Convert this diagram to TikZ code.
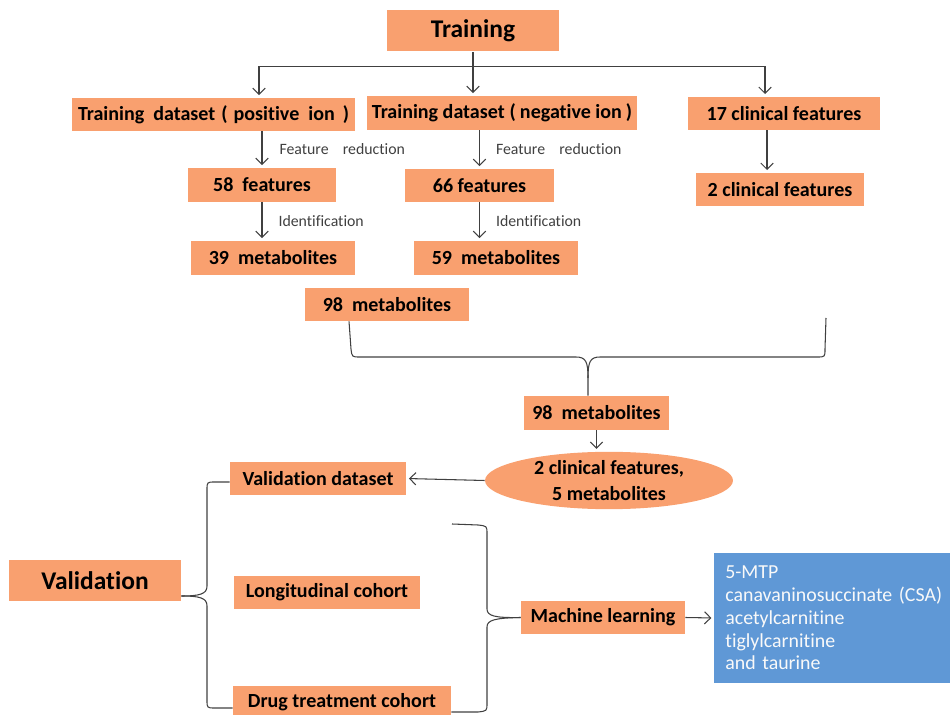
\documentclass[tikz,border=0pt]{standalone}
\usepackage{fontspec}
\setmainfont{Carlito}[Ligatures=NoCommon]
\usepackage{tikz}
\usetikzlibrary{arrows.meta,positioning,calc,shapes.geometric}
\definecolor{boxorange}{HTML}{F9A06F}
\definecolor{boxblue}{HTML}{5F98D6}
\definecolor{linegray}{HTML}{404040}

\begin{document}
\begin{tikzpicture}[x=0.02cm,y=-0.02cm,
box/.style={fill=boxorange,inner sep=0pt,text=black,font=\bfseries\fontsize{11.4}{13}\selectfont},
bigbox/.style={box,font=\bfseries\fontsize{14.5}{16}\selectfont},
lbl/.style={text=linegray,font=\fontsize{9}{10}\selectfont,inner sep=0pt},
line/.style={draw=linegray,line width=0.6pt},
arr/.style={line,-{Straight Barb[length=3.5pt,width=7pt]},shorten >=1.5pt}]
\useasboundingbox (0,0) rectangle (950,715);
\node[bigbox,minimum width=3.44cm,minimum height=0.82cm] (train) at (473,31) {Training};
\node[box,minimum width=5.66cm,minimum height=0.66cm] (pos) at (213.5,114.5) {Training\ \ dataset\hspace{0.3em}(\hspace{0.3em}positive\ \ ion\hspace{0.4em})};
\node[box,minimum width=5.42cm,minimum height=0.68cm] (neg) at (502,113) {Training dataset\hspace{0.25em}(\hspace{0.2em}negative ion\hspace{0.2em})};
\node[box,minimum width=3.84cm,minimum height=0.66cm] (c17) at (784,113.5) {17 clinical features};
\node[box,minimum width=2.98cm,minimum height=0.68cm] (f58) at (262,185) {58\ \ features};
\node[box,minimum width=2.98cm,minimum height=0.66cm] (f66) at (479.5,185.5) {66 features};
\node[box,minimum width=3.36cm,minimum height=0.66cm] (c2) at (780,189.5) {2 clinical features};
\node[box,minimum width=3.28cm,minimum height=0.68cm] (m39) at (273,258) {39\ \ metabolites};
\node[box,minimum width=3.28cm,minimum height=0.68cm] (m59) at (496,258) {59\ \ metabolites};
\node[box,minimum width=3.28cm,minimum height=0.66cm] (m98a) at (387,304.5) {98\ \ metabolites};
\node[box,minimum width=2.9cm,minimum height=0.68cm] (m98b) at (596.5,413) {98\ \ metabolites};
\node[box,ellipse,minimum width=4.96cm,minimum height=1.1cm,align=center,font=\bfseries\fontsize{11.4}{15}\selectfont] (ell) at (609,480.5) {2 clinical features,\\5 metabolites};
\node[box,minimum width=3.52cm,minimum height=0.66cm] (vds) at (318,478.5) {Validation dataset};
\node[bigbox,minimum width=3.44cm,minimum height=0.82cm] (valid) at (95,580.5) {Validation};
\node[box,minimum width=3.72cm,minimum height=0.66cm] (lon) at (327,592.5) {Longitudinal cohort};
\node[box,minimum width=4.36cm,minimum height=0.66cm] (drug) at (342,702.5) {Drug treatment cohort};
\node[box,minimum width=3.28cm,minimum height=0.66cm] (ml) at (603,617.5) {Machine learning};
\node[fill=boxblue,text=white!95!gray,anchor=west,minimum height=2.6cm,inner xsep=0.22cm,inner ysep=0.2cm,text width=4.6cm,align=left,font=\fontsize{11.3}{13}\selectfont] (res) at (714,618) {5-MTP\\canavaninosuccinate (CSA)\\acetylcarnitine\\tiglylcarnitine\\and taurine};
\draw[line] (train.south) -- ++(0,15) coordinate (hub);
\draw[arr] (hub) -| ([xshift=0.91cm]pos.north);
\draw[arr] (hub) -- (hub |- neg.north);
\draw[arr] (hub) -| ([xshift=-0.38cm]c17.north);
\draw[arr] (f58.north |- pos.south) -- (f58.north) node[lbl,midway,right=0.34cm] {Feature\hspace{0.9em}reduction};
\draw[arr] (f58.south) -- (f58.south |- m39.north) node[lbl,midway,right=0.32cm] {Identification};
\draw[arr] (f66.north |- neg.south) -- (f66.north) node[lbl,midway,right=0.32cm] {Feature\hspace{0.9em}reduction};
\draw[arr] (f66.south) -- (f66.south |- m59.north) node[lbl,midway,right=0.32cm] {Identification};
\draw[arr] ([xshift=-0.26cm]c2.north |- c17.south) -- ([xshift=-0.26cm]c2.north);
\coordinate (topR) at (826,318);
\coordinate (tipA) at ([xshift=-0.17cm]m98b.north);
\draw[line] ([xshift=-0.76cm]m98a.south) -- (351,349) .. controls (352,357) .. (360,357) -- (576,357) .. controls (586,357) and (588,362) .. (588,378) -- (tipA);
\draw[line] (topR) -- (825,349) .. controls (825,357) .. (817,357) -- (600,357) .. controls (590,357) and (588,362) .. (588,378);
\draw[arr] (m98b.south) -- (m98b.south |- ell.north);
\draw[arr] (ell.west) -- (vds.east);
\coordinate (tipV) at ([yshift=-0.31cm]valid.east);
\draw[line] ([yshift=-0.07cm]vds.west) -- (215,482) .. controls (207,482) .. (207,490) -- (207,586) .. controls (207,594) and (200,596) .. (tipV);
\draw[line] (tipV) .. controls (200,596) and (207,598) .. (207,606) -- (207,700) .. controls (207,708) .. (215,708) -- ([yshift=-0.11cm]drug.west);
\coordinate (topM) at (452,524);
\coordinate (botM) at ([yshift=-0.19cm]drug.east);
\draw[line] (topM) -- (478,525) .. controls (487,526) .. (487,534) -- (487,609) .. controls (487,616) and (495,618) .. (ml.west);
\draw[line] (ml.west) .. controls (495,618) and (487,620) .. (487,627) -- (487,703) .. controls (487,711) .. (478,712) -- (botM);
\draw[arr] (ml.east) -- (res.west);
\end{tikzpicture}
\end{document}
